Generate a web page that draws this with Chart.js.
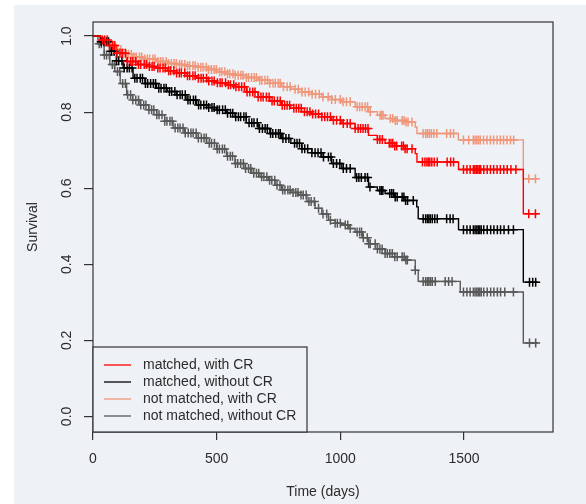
<!DOCTYPE html>
<html><head><meta charset="utf-8">
<script src="https://cdn.jsdelivr.net/npm/chart.js@4.4.0/dist/chart.umd.min.js"></script>
<style>html,body{margin:0;padding:0;background:#fff;}canvas{display:block}</style>
</head><body>
<canvas id="c" width="586" height="504"></canvas>
<script>
// ---- data ----
const seriesLabels = ['matched, with CR', 'matched, without CR', 'not matched, with CR', 'not matched, without CR'];
const seriesColors = ['#ff0000', '#000000', '#f0967a', '#585858'];
const xTicks = [0, 500, 1000, 1500];
const yTicks = [0.0, 0.2, 0.4, 0.6, 0.8, 1.0];

const matchedCrTime = [0, 30, 60, 95, 136, 180, 220, 257, 300, 338, 380, 419, 460, 500, 540, 574, 620, 668, 715, 763, 800, 844, 885, 925, 965, 1006, 1060, 1114, 1150, 1181, 1220, 1262, 1303, 1310, 1478, 1740, 1800];
const matchedCrSurv = [1.0, 0.99, 0.975, 0.955, 0.933, 0.925, 0.92, 0.916, 0.909, 0.903, 0.896, 0.889, 0.882, 0.877, 0.872, 0.867, 0.853, 0.840, 0.829, 0.818, 0.81, 0.801, 0.795, 0.788, 0.779, 0.770, 0.757, 0.739, 0.728, 0.718, 0.711, 0.704, 0.691, 0.669, 0.649, 0.533, 0.533];
const matchedCrCensor = [38, 47, 58, 66, 79, 88, 97, 109, 118, 131, 139, 152, 161, 173, 184, 193, 207, 216, 228, 239, 247, 262, 271, 283, 292, 306, 314, 327, 338, 349, 357, 371, 382, 391, 404, 413, 426, 437, 446, 459, 468, 481, 490, 503, 514, 522, 536, 547, 556, 569, 578, 590, 601, 612, 623, 634, 646, 655, 668, 679, 688, 701, 712, 724, 733, 746, 757, 765, 775, 785, 795, 812, 822, 832, 842, 855, 866, 877, 888, 900, 912, 925, 937, 948, 960, 972, 985, 1000, 1012, 1028, 1040, 1060, 1072, 1082, 1092, 1102, 1112, 1150, 1160, 1170, 1198, 1205, 1212, 1220, 1228, 1248, 1255, 1262, 1270, 1290, 1332, 1342, 1350, 1356, 1362, 1370, 1380, 1392, 1432, 1446, 1458, 1498, 1512, 1525, 1538, 1544, 1550, 1556, 1562, 1568, 1580, 1594, 1607, 1620, 1634, 1647, 1661, 1675, 1690, 1710, 1762, 1789];

const matchedNoCrTime = [0, 30, 68, 95, 122, 162, 210, 257, 300, 338, 380, 419, 460, 500, 540, 574, 620, 668, 715, 763, 800, 844, 885, 925, 965, 1006, 1060, 1114, 1150, 1181, 1220, 1262, 1309, 1315, 1478, 1740, 1800];
const matchedNoCrSurv = [1.0, 0.985, 0.96, 0.935, 0.916, 0.889, 0.875, 0.863, 0.854, 0.846, 0.832, 0.819, 0.812, 0.806, 0.797, 0.788, 0.772, 0.757, 0.744, 0.731, 0.718, 0.704, 0.693, 0.682, 0.665, 0.652, 0.628, 0.603, 0.594, 0.586, 0.577, 0.568, 0.551, 0.52, 0.491, 0.353, 0.353];
const matchedNoCrCensor = [33, 44, 55, 63, 74, 86, 95, 104, 117, 126, 138, 147, 158, 169, 178, 191, 200, 212, 221, 233, 244, 253, 266, 275, 287, 296, 309, 318, 331, 340, 352, 361, 373, 384, 393, 406, 415, 427, 436, 448, 459, 468, 481, 490, 502, 511, 524, 535, 544, 556, 565, 577, 588, 597, 610, 619, 631, 642, 651, 664, 673, 685, 696, 705, 718, 727, 739, 750, 757, 768, 780, 792, 815, 825, 835, 845, 856, 868, 885, 898, 910, 922, 932, 952, 962, 972, 985, 998, 1012, 1025, 1040, 1066, 1075, 1085, 1100, 1110, 1120, 1160, 1166, 1172, 1200, 1208, 1215, 1222, 1230, 1250, 1257, 1264, 1272, 1295, 1335, 1345, 1352, 1358, 1364, 1372, 1382, 1392, 1430, 1444, 1456, 1498, 1512, 1525, 1538, 1545, 1552, 1558, 1564, 1570, 1580, 1594, 1608, 1621, 1635, 1648, 1662, 1680, 1700, 1765, 1778, 1790];

const unmatchedCrTime = [0, 30, 60, 90, 120, 160, 200, 257, 300, 338, 380, 419, 460, 500, 540, 574, 620, 668, 715, 763, 800, 844, 885, 925, 965, 1006, 1060, 1114, 1150, 1181, 1220, 1262, 1303, 1310, 1477, 1740, 1800];
const unmatchedCrSurv = [1.0, 0.99, 0.978, 0.965, 0.952, 0.945, 0.94, 0.933, 0.928, 0.925, 0.922, 0.918, 0.912, 0.906, 0.901, 0.897, 0.891, 0.884, 0.876, 0.867, 0.86, 0.853, 0.847, 0.840, 0.833, 0.827, 0.814, 0.801, 0.792, 0.783, 0.778, 0.774, 0.761, 0.744, 0.727, 0.625, 0.625];
const unmatchedCrCensor = [36, 48, 57, 69, 80, 91, 100, 113, 122, 134, 143, 155, 166, 175, 188, 197, 209, 220, 229, 242, 251, 263, 274, 283, 296, 305, 317, 328, 337, 350, 359, 371, 382, 391, 404, 413, 425, 436, 445, 458, 467, 479, 490, 499, 512, 521, 533, 544, 553, 566, 575, 587, 598, 607, 620, 629, 641, 652, 661, 674, 683, 695, 706, 715, 728, 737, 749, 757, 770, 785, 797, 817, 830, 845, 858, 872, 886, 900, 915, 930, 951, 965, 980, 1000, 1011, 1025, 1040, 1068, 1078, 1088, 1100, 1110, 1121, 1161, 1167, 1173, 1202, 1212, 1222, 1230, 1250, 1258, 1266, 1274, 1290, 1335, 1345, 1352, 1360, 1368, 1378, 1390, 1430, 1445, 1458, 1498, 1519, 1538, 1545, 1552, 1559, 1566, 1579, 1593, 1607, 1620, 1634, 1647, 1660, 1674, 1688, 1701, 1762, 1789];

const unmatchedNoCrTime = [0, 20, 45, 68, 88, 110, 136, 160, 190, 225, 257, 290, 324, 370, 419, 460, 500, 540, 574, 610, 642, 675, 709, 736, 763, 800, 830, 865, 898, 925, 952, 979, 1006, 1035, 1060, 1090, 1114, 1150, 1181, 1220, 1262, 1303, 1315, 1485, 1740, 1800];
const unmatchedNoCrSurv = [1.0, 0.98, 0.95, 0.925, 0.907, 0.875, 0.846, 0.832, 0.819, 0.806, 0.793, 0.776, 0.758, 0.745, 0.732, 0.718, 0.703, 0.684, 0.665, 0.652, 0.639, 0.63, 0.621, 0.608, 0.595, 0.589, 0.582, 0.565, 0.547, 0.532, 0.516, 0.508, 0.503, 0.494, 0.485, 0.47, 0.454, 0.44, 0.428, 0.42, 0.411, 0.384, 0.355, 0.327, 0.193, 0.193];
const unmatchedNoCrCensor = [25, 34, 46, 55, 66, 78, 87, 99, 108, 120, 131, 140, 152, 161, 173, 184, 193, 205, 214, 226, 237, 246, 258, 267, 279, 290, 299, 311, 320, 332, 343, 352, 364, 373, 385, 396, 405, 417, 426, 438, 449, 458, 470, 479, 491, 502, 511, 523, 532, 544, 555, 564, 576, 585, 597, 608, 617, 629, 638, 650, 661, 670, 682, 691, 703, 714, 723, 735, 744, 756, 767, 776, 788, 797, 809, 820, 829, 841, 850, 862, 873, 882, 895, 912, 930, 945, 960, 979, 988, 1000, 1020, 1030, 1040, 1068, 1078, 1086, 1093, 1109, 1115, 1121, 1141, 1150, 1160, 1169, 1181, 1190, 1200, 1210, 1220, 1230, 1250, 1258, 1265, 1271, 1303, 1335, 1345, 1352, 1358, 1365, 1372, 1384, 1424, 1438, 1452, 1498, 1512, 1525, 1538, 1545, 1552, 1558, 1564, 1570, 1580, 1594, 1608, 1621, 1635, 1648, 1665, 1700, 1765, 1790];

// ---- helpers ----
function stepPoints(times, surv) { return times.map((t, i) => ({x: t, y: surv[i]})); }
function survAt(times, surv, t) { let s = surv[0]; for (let i = 0; i < times.length; i++) { if (times[i] <= t) s = surv[i]; else break; } return s; }
function censorPoints(times, surv, cens) { return cens.map(t => ({x: t, y: survAt(times, surv, t)})); }

const groups = [
  [matchedCrTime, matchedCrSurv, matchedCrCensor],
  [matchedNoCrTime, matchedNoCrSurv, matchedNoCrCensor],
  [unmatchedCrTime, unmatchedCrSurv, unmatchedCrCensor],
  [unmatchedNoCrTime, unmatchedNoCrSurv, unmatchedNoCrCensor]
];

const datasets = [];
groups.forEach((g, i) => {
  datasets.push({type: 'line', label: seriesLabels[i], data: stepPoints(g[0], g[1]), stepped: 'before',
    borderColor: seriesColors[i], borderWidth: 1.4, pointRadius: 0, fill: false, order: 2});
});
groups.forEach((g, i) => {
  datasets.push({type: 'scatter', label: seriesLabels[i] + ' censored', data: censorPoints(g[0], g[1], g[2]),
    pointStyle: 'cross', pointRadius: 4.5, pointBorderWidth: 1.5, borderColor: seriesColors[i], backgroundColor: seriesColors[i],
    showLine: false, order: 1});
});

const FONT = 'Liberation Sans, Arial, sans-serif';
const TXT = '#2b2b2b';

const bgPlugin = {
  id: 'bg',
  beforeDraw(chart) {
    const ctx = chart.ctx;
    ctx.save();
    ctx.fillStyle = '#ffffff'; ctx.fillRect(0, 0, chart.width, chart.height);
    ctx.fillStyle = '#eef1f5'; ctx.fillRect(14, 5, chart.width - 14, chart.height - 5);
    ctx.restore();
  }
};

const decoPlugin = {
  id: 'deco',
  afterDraw(chart) {
    const ctx = chart.ctx, a = chart.chartArea, ys = chart.scales.y;
    ctx.save();
    // frame
    ctx.strokeStyle = '#333'; ctx.lineWidth = 1.2;
    ctx.strokeRect(a.left, a.top, a.right - a.left, a.bottom - a.top);
    // y tick labels (rotated, R style)
    ctx.fillStyle = TXT; ctx.font = '14px ' + FONT; ctx.textAlign = 'center'; ctx.textBaseline = 'middle';
    yTicks.forEach(v => {
      const y = ys.getPixelForValue(v);
      ctx.save(); ctx.translate(a.left - 26, y); ctx.rotate(-Math.PI / 2); ctx.fillText(v.toFixed(1), 0, 0); ctx.restore();
    });
    // legend
    const lx = a.left, ly = a.bottom - 85, lw = 214, lh = 85;
    ctx.fillStyle = '#eef1f5'; ctx.fillRect(lx, ly, lw, lh);
    ctx.strokeStyle = '#333'; ctx.lineWidth = 1.2; ctx.strokeRect(lx, ly, lw, lh);
    ctx.textAlign = 'left';
    seriesLabels.forEach((lab, i) => {
      const yy = ly + 18 + i * 17;
      ctx.strokeStyle = seriesColors[i]; ctx.lineWidth = 1.3;
      ctx.beginPath(); ctx.moveTo(lx + 11, yy); ctx.lineTo(lx + 38, yy); ctx.stroke();
      ctx.fillStyle = TXT; ctx.fillText(lab, lx + 50, yy + 0.5);
    });
    ctx.restore();
  }
};

new Chart(document.getElementById('c'), {
  data: {datasets},
  options: {
    responsive: false, animation: false,
    layout: {padding: {left: 0, top: 22, right: 33, bottom: 0}},
    plugins: {legend: {display: false}, tooltip: {enabled: false}},
    scales: {
      x: {
        type: 'linear', min: 0, max: 1860,
        afterBuildTicks: s => { s.ticks = xTicks.map(v => ({value: v})); },
        afterFit: s => { s.height = 72; },
        ticks: {font: {family: FONT, size: 14}, color: TXT, padding: 11, maxRotation: 0, autoSkip: false, callback: v => String(v)},
        grid: {drawOnChartArea: false, drawTicks: true, tickLength: 8, color: '#333', lineWidth: 1.2},
        border: {display: false},
        title: {display: true, text: 'Time (days)', font: {family: FONT, size: 14}, color: TXT, padding: {top: 0, bottom: 3}}
      },
      y: {
        type: 'linear', min: -0.041, max: 1.037,
        afterBuildTicks: s => { s.ticks = yTicks.map(v => ({value: v})); },
        afterFit: s => { s.width = 93; },
        ticks: {display: false},
        grid: {drawOnChartArea: false, drawTicks: true, tickLength: 9, color: '#333', lineWidth: 1.2},
        border: {display: false},
        title: {display: true, text: 'Survival', font: {family: FONT, size: 14}, color: TXT, padding: {top: 25, bottom: 0}}
      }
    }
  },
  plugins: [bgPlugin, decoPlugin]
});
</script>
</body></html>
